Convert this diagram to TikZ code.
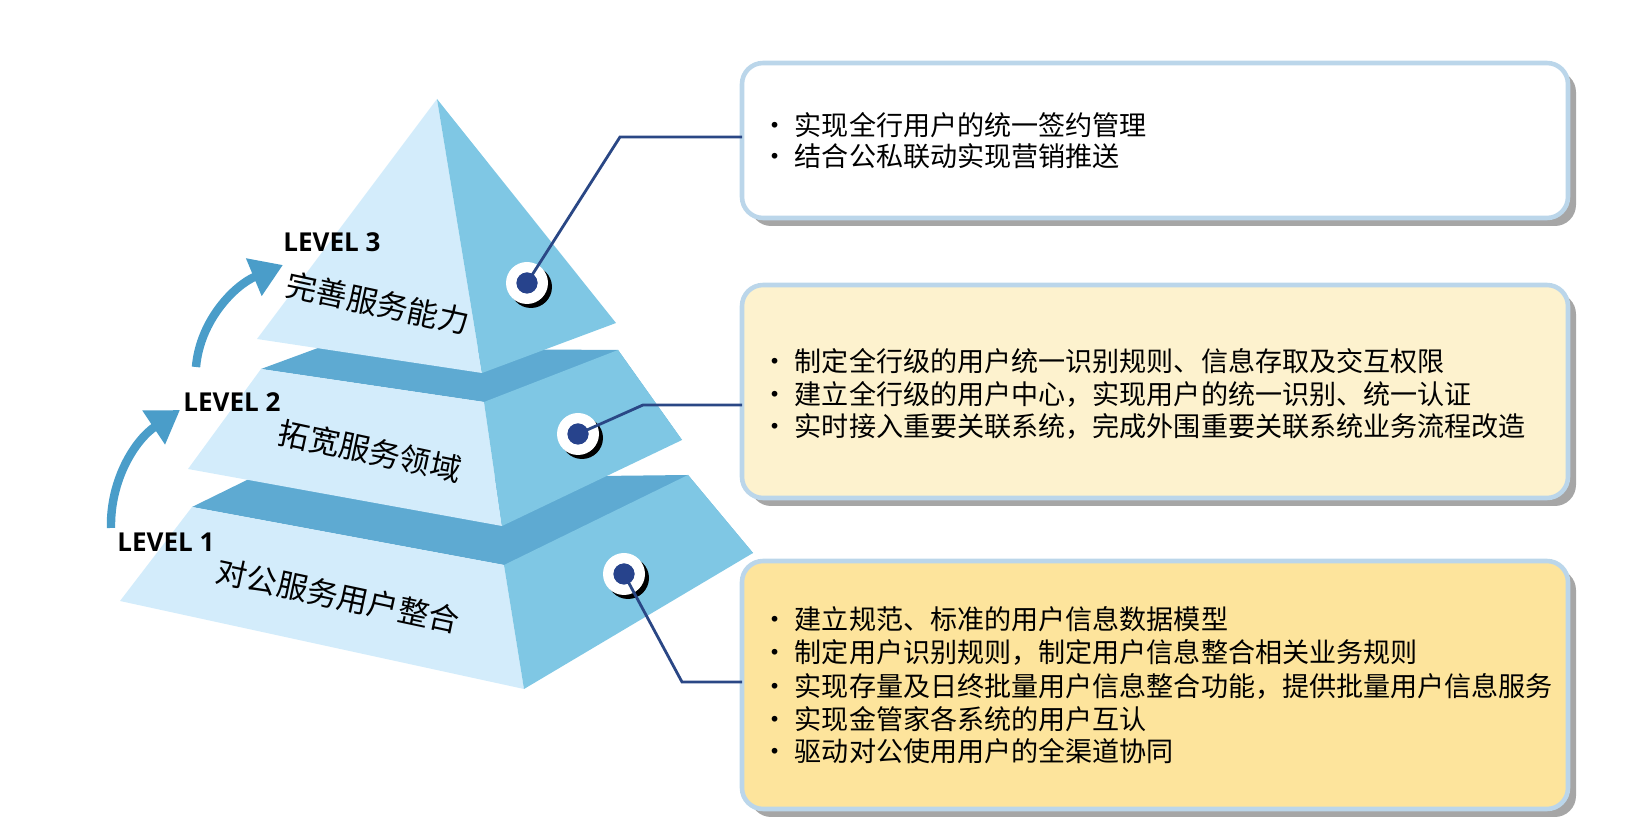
\documentclass[tikz,border=0pt]{standalone}
\usepackage{fontspec}
\setmainfont{Noto Sans CJK SC}
\newfontfamily\lvlfont{Open Sans}
\usetikzlibrary{arrows.meta}
\definecolor{faceL}{HTML}{D3ECFB}
\definecolor{faceR}{HTML}{7FC7E4}
\definecolor{band}{HTML}{5EAAD2}
\definecolor{dotblue}{HTML}{27438C}
\definecolor{lineblue}{HTML}{2A4785}
\definecolor{boxedge}{HTML}{BBD6EA}
\definecolor{cream}{HTML}{FDF2CE}
\definecolor{gold}{HTML}{FDE49C}
\definecolor{arrowblue}{HTML}{4A9DC9}
\tikzset{
  lface/.style={fill=faceL},
  rface/.style={fill=faceR},
  bandf/.style={fill=band},
  infobox/.style={draw=boxedge,line width=1.3pt,rounded corners=6pt},
  shadowbox/.style={fill=black!35,rounded corners=6pt},
  itemtxt/.style={anchor=west,font=\fontsize{7.7}{9}\selectfont,inner sep=0pt},
  tierlbl/.style={font=\fontsize{8.8}{10}\selectfont,rotate=-12},
  lvl/.style={font=\lvlfont\bfseries\fontsize{7.4}{9}\selectfont},
  conn/.style={draw=lineblue,line width=0.8pt},
  uparrow/.style={draw=arrowblue,line width=2.4pt,-{Triangle[length=9pt,width=11pt]}}
}
\begin{document}
\begin{tikzpicture}[x=0.01cm,y=-0.01cm]
\useasboundingbox (0,0) rectangle (1644,837);
% bottom tier
\fill[bandf] (192,507) -- (247,480) -- (688,475) -- (753,553) -- (504,565) -- cycle;
\fill[lface] (192,507) -- (504,565) -- (524,689) -- (120,601) -- cycle;
\fill[rface] (504,565) -- (688,475) -- (753,553) -- (524,689) -- cycle;
% middle tier
\fill[bandf] (261,369) -- (318,348) -- (618,350) -- (682,440) -- (484,402) -- cycle;
\fill[lface] (261,369) -- (484,402) -- (502,526) -- (188,469) -- cycle;
\fill[rface] (484,402) -- (618,350) -- (682,440) -- (502,526) -- cycle;
% top tier
\fill[lface] (437,99) -- (257,339) -- (482,373) -- cycle;
\fill[rface] (437,99) -- (482,373) -- (616,323) -- cycle;
% tier labels
\node[tierlbl] (t3) at (378,303) {完善服务能力};
\node[tierlbl] (t2) at (370,451) {拓宽服务领域};
\node[tierlbl] (t1) at (338,596) {对公服务用户整合};
% level labels
\node[lvl] (l3) at (332,242) {LEVEL 3};
\node[lvl] (l2) at (232,402) {LEVEL 2};
\node[lvl] (l1) at (166,542) {LEVEL 1};
% arrows
\coordinate (a1s) at (111,528);
\coordinate (a1e) at (180,410);
\coordinate (a2s) at (196,367);
\coordinate (a2e) at (283,265);
\draw[uparrow] (a1s) .. controls (110,480) and (135,440) .. (a1e);
\draw[uparrow] (a2s) .. controls (200,320) and (235,285) .. (a2e);
% boxes
\fill[shadowbox] (750,71) rectangle (1576,226);
\fill[shadowbox] (750,293) rectangle (1576,506);
\fill[shadowbox] (750,569) rectangle (1576,817);
\draw[infobox,fill=white] (742,63) rectangle (1568,218) node[pos=0,coordinate] (b1) {};
\draw[infobox,fill=cream] (742,285) rectangle (1568,498) node[pos=0,coordinate] (b2) {};
\draw[infobox,fill=gold] (742,561) rectangle (1568,809) node[pos=0,coordinate] (b3) {};
\coordinate (b1w) at (742,137);
\coordinate (b2w) at (742,405);
\coordinate (b3w) at (742,682);
% texts
\node[itemtxt] (p11) at (761,125) {• 实现全行用户的统一签约管理};
\node[itemtxt] (p12) at (761,156) {• 结合公私联动实现营销推送};
\node[itemtxt] (p21) at (761,361) {• 制定全行级的用户统一识别规则、信息存取及交互权限};
\node[itemtxt] (p22) at (761,394) {• 建立全行级的用户中心，实现用户的统一识别、统一认证};
\node[itemtxt] (p23) at (761,426) {• 实时接入重要关联系统，完成外围重要关联系统业务流程改造};
\node[itemtxt] (p31) at (761,619) {• 建立规范、标准的用户信息数据模型};
\node[itemtxt] (p32) at (761,652) {• 制定用户识别规则，制定用户信息整合相关业务规则};
\node[itemtxt] (p33) at (761,686) {• 实现存量及日终批量用户信息整合功能，提供批量用户信息服务};
\node[itemtxt] (p34) at (761,719) {• 实现金管家各系统的用户互认};
\node[itemtxt] (p35) at (761,751) {• 驱动对公使用用户的全渠道协同};
% dots
\foreach \n/\x/\y in {d3/527/283, d2/578/434, d1/624/574}{
  \fill[black] (\x+4,\y+4) circle (21);
  \fill[white] (\x,\y) circle (21);
  \fill[dotblue] (\x,\y) circle (10.5);
  \coordinate (\n) at (\x,\y);
}
% connectors
\draw[conn] (d3) -- (620,137) -- (b1w);
\draw[conn] (d2) -- (643,405) -- (b2w);
\draw[conn] (d1) -- (682,682) -- (b3w);
\foreach \n/\x/\y in {d3/527/283, d2/578/434, d1/624/574}{
  \fill[dotblue] (\x,\y) circle (10.5);
}
\end{tikzpicture}
\end{document}
